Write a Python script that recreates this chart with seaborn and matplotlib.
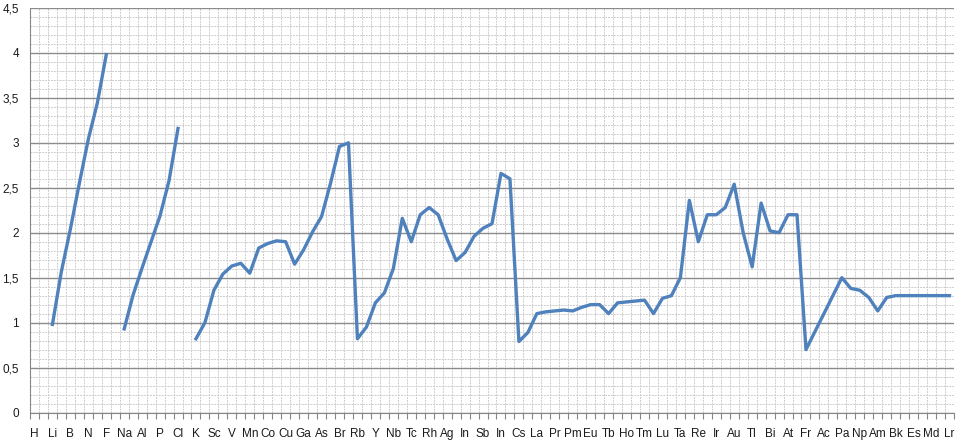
import numpy as np
import pandas as pd
import matplotlib
matplotlib.use('Agg')
import matplotlib.pyplot as plt
import seaborn as sns
from matplotlib.ticker import FixedLocator, MultipleLocator, FuncFormatter

# every element symbol, in order (H..Lr)
elements = ['H', 'He', 'Li', 'Be', 'B', 'C', 'N', 'O', 'F', 'Ne',
            'Na', 'Mg', 'Al', 'Si', 'P', 'S', 'Cl', 'Ar',
            'K', 'Ca', 'Sc', 'Ti', 'V', 'Cr', 'Mn', 'Fe', 'Co', 'Ni', 'Cu', 'Zn',
            'Ga', 'Ge', 'As', 'Se', 'Br', 'Kr',
            'Rb', 'Sr', 'Y', 'Zr', 'Nb', 'Mo', 'Tc', 'Ru', 'Rh', 'Pd', 'Ag', 'Cd',
            'In', 'Sn', 'Sb', 'Te', 'I', 'Xe',
            'Cs', 'Ba', 'La', 'Ce', 'Pr', 'Nd', 'Pm', 'Sm', 'Eu', 'Gd', 'Tb', 'Dy',
            'Ho', 'Er', 'Tm', 'Yb', 'Lu', 'Hf', 'Ta', 'W', 'Re', 'Os', 'Ir', 'Pt',
            'Au', 'Hg', 'Tl', 'Pb', 'Bi', 'Po', 'At', 'Rn',
            'Fr', 'Ra', 'Ac', 'Th', 'Pa', 'U', 'Np', 'Pu', 'Am', 'Cm', 'Bk', 'Cf',
            'Es', 'Fm', 'Md', 'No', 'Lr']

# tick labels as printed on the original axis (every second element)
tick_labels = ['H', 'Li', 'B', 'N', 'F', 'Na', 'Al', 'P', 'Cl', 'K', 'Sc', 'V', 'Mn',
               'Co', 'Cu', 'Ga', 'As', 'Br', 'Rb', 'Y', 'Nb', 'Tc', 'Rh', 'Ag', 'In',
               'Sb', 'In', 'Cs', 'La', 'Pr', 'Pm', 'Eu', 'Tb', 'Ho', 'Tm', 'Lu', 'Ta',
               'Re', 'Ir', 'Au', 'Tl', 'Bi', 'At', 'Fr', 'Ac', 'Pa', 'Np', 'Am', 'Bk',
               'Es', 'Md', 'Lr']

nan = np.nan
electroneg = [nan, nan, 0.98, 1.57, 2.04, 2.55, 3.04, 3.44, 3.98, nan,
              0.93, 1.31, 1.61, 1.90, 2.19, 2.58, 3.16, nan,
              0.82, 1.00, 1.36, 1.54, 1.63, 1.66, 1.55, 1.83, 1.88, 1.91, 1.90, 1.65,
              1.81, 2.01, 2.18, 2.55, 2.96, 3.00,
              0.82, 0.95, 1.22, 1.33, 1.60, 2.16, 1.90, 2.20, 2.28, 2.20, 1.93, 1.69,
              1.78, 1.96, 2.05, 2.10, 2.66, 2.60,
              0.79, 0.89, 1.10, 1.12, 1.13, 1.14, 1.13, 1.17, 1.20, 1.20, 1.10, 1.22,
              1.23, 1.24, 1.25, 1.10, 1.27, 1.30, 1.50, 2.36, 1.90, 2.20, 2.20, 2.28,
              2.54, 2.00, 1.62, 2.33, 2.02, 2.00, 2.20, 2.20,
              0.70, 0.90, 1.10, 1.30, 1.50, 1.38, 1.36, 1.28, 1.13, 1.28, 1.30, 1.30,
              1.30, 1.30, 1.30, 1.30, 1.30]

df = pd.DataFrame({'element': elements, 'en': electroneg})
df['pos'] = np.arange(len(df))
# split into runs so gaps stay gaps
df['seg'] = df['en'].isna().cumsum()
df = df.dropna()

plt.rcParams['font.family'] = ['Liberation Sans', 'DejaVu Sans']

fig = plt.figure(figsize=(9.6, 4.4), dpi=100)
ax = fig.add_axes([30 / 960, 1 - 412.5 / 440, 924 / 960, 404.5 / 440])

sns.lineplot(data=df, x='pos', y='en', units='seg', estimator=None,
             color='#4f81bd', linewidth=2.4, ax=ax, sort=False)

n = len(elements)
ax.set_xlim(-0.5, n - 0.5)
ax.set_ylim(0, 4.5)

ax.set_xticks(np.arange(0, n, 2))
ax.set_xticklabels(tick_labels)
ax.xaxis.set_minor_locator(FixedLocator(np.arange(-0.5, n, 1)))
ax.tick_params(axis='x', which='major', length=0, pad=11, labelsize=8.5, labelcolor='#1a1a1a')
ax.tick_params(axis='x', which='minor', length=4, color='#868686', width=0.8)

ax.yaxis.set_major_locator(MultipleLocator(0.5))
ax.yaxis.set_minor_locator(MultipleLocator(0.1))
ax.yaxis.set_major_formatter(FuncFormatter(lambda v, p: f'{v:g}'.replace('.', ',')))
ax.tick_params(axis='y', which='both', length=0, pad=8, labelsize=8.5, labelcolor='#1a1a1a')

ax.grid(False)
ax.grid(which='major', axis='y', color='#8c8c8c', linewidth=1.0)
ax.grid(which='minor', axis='y', color='#cccccc', linewidth=0.7, linestyle=(0, (2, 1)))
ax.grid(which='minor', axis='x', color='#cccccc', linewidth=0.7, linestyle=(0, (2, 1)))
ax.set_axisbelow(True)

for side in ['top', 'right']:
    ax.spines[side].set_visible(False)
ax.spines['left'].set_color('#868686')
ax.spines['bottom'].set_color('#868686')
ax.set_xlabel('')
ax.set_ylabel('')

fig.savefig('out.png', dpi=100)
